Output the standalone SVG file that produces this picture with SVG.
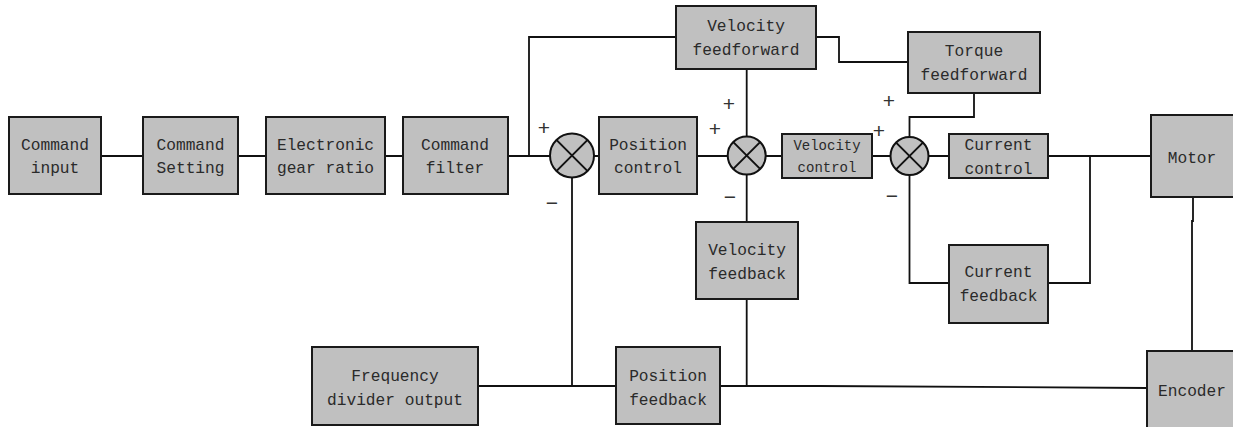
<svg xmlns="http://www.w3.org/2000/svg" width="1233" height="427" viewBox="0 0 1233 427">
<style>
.box{fill:#c0c0c0;stroke:#1a1a1a;stroke-width:2}
.sum{fill:#c0c0c0;stroke:#111;stroke-width:2}
.x{stroke:#111;stroke-width:2}
.ln{fill:none;stroke:#111;stroke-width:1.8}
.t{font-family:"Liberation Mono","DejaVu Sans Mono",monospace;font-size:16.2px;fill:#2a2a2a;text-anchor:middle}
.ts{font-family:"Liberation Mono","DejaVu Sans Mono",monospace;font-size:14px;fill:#2a2a2a;text-anchor:middle}
.sg{font-family:"Liberation Sans",sans-serif;font-size:21px;fill:#333;text-anchor:middle;dominant-baseline:central}
</style>
<rect width="1233" height="427" fill="#fff"/>
<g id="connectors">
<path class="ln" d="M101 156H143M238 156H266M385 156H403M508 156H550"/>
<path class="ln" d="M529 156V37H676"/>
<path class="ln" d="M594 156H599M697 156H728M746.7 69V137M766 156H782"/>
<path class="ln" d="M816 37H839V62H908"/>
<path class="ln" d="M872 156H890M974 93V117H909.5V137M929 156H949"/>
<path class="ln" d="M1048 156H1151M1090 156V283H1048M909.5 175V283H949"/>
<path class="ln" d="M1193 197V221H1192V351"/>
<path class="ln" d="M572 177V386M478 386H616M720 386H820L1147 388"/>
<path class="ln" d="M746.7 175V222M746.7 299V386"/>
</g>
<g id="command-input"><rect class="box" x="9" y="117" width="92" height="77"/><text class="t" x="55" y="150">Command</text><text class="t" x="55" y="173">input</text></g>
<g id="command-setting"><rect class="box" x="143" y="117" width="95" height="77"/><text class="t" x="190.5" y="150">Command</text><text class="t" x="190.5" y="173">Setting</text></g>
<g id="electronic-gear"><rect class="box" x="266" y="117" width="119" height="77"/><text class="t" x="325.5" y="150">Electronic</text><text class="t" x="325.5" y="173">gear ratio</text></g>
<g id="command-filter"><rect class="box" x="403" y="117" width="105" height="77"/><text class="t" x="455" y="150">Command</text><text class="t" x="455" y="173">filter</text></g>
<g id="sum1"><circle class="sum" cx="572" cy="155.5" r="22"/><path class="x" d="M556.4 139.9L587.6 171.1M587.6 139.9L556.4 171.1"/><text class="sg" x="544" y="127">+</text><text class="sg" x="552" y="202">−</text></g>
<g id="position-control"><rect class="box" x="599" y="117" width="98" height="77"/><text class="t" x="648" y="150">Position</text><text class="t" x="648" y="173">control</text></g>
<g id="velocity-feedforward"><rect class="box" x="676" y="6" width="140" height="63"/><text class="t" x="746" y="31">Velocity</text><text class="t" x="746" y="55">feedforward</text></g>
<g id="sum2"><circle class="sum" cx="746.7" cy="155.5" r="19"/><path class="x" d="M733.3 142.1L760.1 168.9M760.1 142.1L733.3 168.9"/><text class="sg" x="729" y="103">+</text><text class="sg" x="715" y="128">+</text><text class="sg" x="730" y="196">−</text></g>
<g id="velocity-control"><rect class="box" x="782" y="134" width="90" height="44"/><text class="ts" x="827" y="150">Velocity</text><text class="ts" x="827" y="172">control</text></g>
<g id="torque-feedforward"><rect class="box" x="908" y="32" width="132" height="61"/><text class="t" x="974" y="56">Torque</text><text class="t" x="974" y="80">feedforward</text></g>
<g id="sum3"><circle class="sum" cx="909.5" cy="156" r="19"/><path class="x" d="M896.1 142.6L922.9 169.4M922.9 142.6L896.1 169.4"/><text class="sg" x="889" y="100">+</text><text class="sg" x="879" y="130">+</text><text class="sg" x="892" y="195">−</text></g>
<g id="current-control"><rect class="box" x="949" y="134" width="99" height="44"/><text class="t" x="998.5" y="150">Current</text><text class="t" x="998.5" y="174">control</text></g>
<g id="motor"><rect class="box" x="1151" y="115" width="92" height="82"/><text class="t" x="1192" y="163">Motor</text></g>
<g id="velocity-feedback"><rect class="box" x="696" y="222" width="102" height="77"/><text class="t" x="747" y="255">Velocity</text><text class="t" x="747" y="279">feedback</text></g>
<g id="current-feedback"><rect class="box" x="949" y="245" width="99" height="78"/><text class="t" x="998.5" y="277">Current</text><text class="t" x="998.5" y="301">feedback</text></g>
<g id="frequency-divider"><rect class="box" x="312" y="347" width="166" height="78"/><text class="t" x="395" y="381">Frequency</text><text class="t" x="395" y="405">divider output</text></g>
<g id="position-feedback"><rect class="box" x="616" y="347" width="104" height="77"/><text class="t" x="668" y="381">Position</text><text class="t" x="668" y="405">feedback</text></g>
<g id="encoder"><rect class="box" x="1147" y="351" width="96" height="90"/><text class="t" x="1192" y="396">Encoder</text></g>
</svg>
